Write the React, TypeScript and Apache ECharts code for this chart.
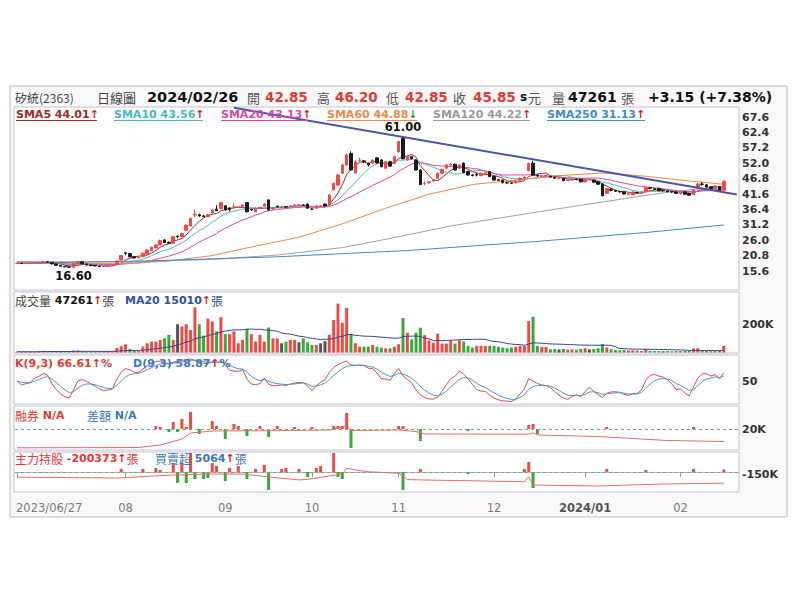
import React, { useEffect, useRef } from "react";
import * as echarts from "echarts";

// ---------- trading days (categories) ----------
const jun2023 = [27, 28, 29, 30];
const jul2023 = [3, 4, 5, 6, 7, 10, 11, 12, 13, 14, 17, 18, 19, 20, 21, 24, 25, 26, 27, 28, 31];
const aug2023 = [1, 2, 3, 4, 7, 8, 9, 10, 11, 14, 15, 16, 17, 18, 21, 22, 23, 24, 25, 28, 29, 30, 31];
const sep2023 = [1, 4, 5, 6, 7, 8, 11, 12, 13, 14, 15, 18, 19, 20, 21, 22, 25, 26, 27, 28];
const oct2023 = [2, 3, 4, 5, 6, 11, 12, 13, 16, 17, 18, 19, 20, 23, 24, 25, 26, 27, 30, 31];
const nov2023 = [1, 2, 3, 6, 7, 8, 9, 10, 13, 14, 15, 16, 17, 20, 21, 22, 23, 24, 27, 28, 29, 30];
const dec2023 = [1, 4, 5, 6, 7, 8, 11, 12, 13, 14, 15, 18, 19, 20, 21, 22, 25, 26, 27, 28, 29];
const jan2024 = [2, 3, 4, 5, 8, 9, 10, 11, 12, 15, 16, 17, 18, 19, 22, 23, 24, 25, 26, 29, 30, 31];
const feb2024 = [1, 2, 5, 15, 16, 19, 20, 21, 22, 23, 26];

// ---------- daily candles: [open, close, low, high] ----------
const candles = [
  [18.2, 18.2, 18.0, 18.4], [18.2, 18.1, 18.0, 18.3], [18.1, 18.2, 18.0, 18.3], [18.2, 18.2, 18.1, 18.4], [18.2, 18.3, 18.1, 18.4],
  [18.3, 18.4, 18.2, 18.6], [18.4, 18.7, 18.3, 18.9], [18.7, 18.5, 18.4, 18.8], [18.5, 18.0, 17.9, 18.6], [18.0, 17.5, 17.4, 18.1],
  [17.5, 17.2, 17.1, 17.6], [17.2, 17.0, 16.9, 17.3], [17.0, 16.9, 16.7, 17.1], [16.9, 18.1, 16.6, 18.2], [18.1, 18.7, 18.0, 19.0],
  [18.7, 18.0, 17.9, 18.9], [18.0, 17.6, 17.5, 18.1], [17.6, 17.4, 17.3, 17.7], [17.4, 17.3, 17.2, 17.5], [17.3, 17.1, 17.0, 17.4],
  [17.1, 17.2, 16.9, 17.3], [17.2, 17.4, 17.0, 17.5], [17.4, 17.7, 17.3, 17.8], [18.0, 19.0, 17.9, 19.1], [19.3, 20.8, 19.2, 20.9],
  [21.8, 21.6, 20.9, 22.1], [21.5, 20.4, 20.2, 21.6], [20.4, 20.0, 19.8, 20.6], [20.0, 20.3, 19.9, 20.6], [20.4, 21.6, 20.3, 21.8],
  [21.3, 22.7, 21.2, 22.9], [22.4, 23.6, 22.3, 23.8], [23.4, 24.4, 23.3, 24.6], [24.4, 25.9, 24.3, 26.2], [26.1, 25.2, 25.0, 26.4],
  [25.3, 25.0, 24.8, 25.6], [25.0, 27.2, 24.9, 27.4], [27.4, 27.2, 26.6, 27.6], [27.2, 28.3, 27.0, 28.5], [29.4, 31.1, 29.2, 31.3],
  [30.8, 33.4, 30.6, 33.6], [34.5, 34.8, 33.8, 36.2], [34.6, 34.2, 33.9, 35.0], [34.2, 34.0, 33.8, 34.6], [34.0, 34.6, 33.8, 34.8],
  [35.2, 36.2, 35.0, 36.4], [36.5, 36.0, 35.8, 37.8], [36.6, 38.7, 36.5, 38.9], [37.6, 36.2, 36.0, 37.8], [36.9, 36.4, 35.7, 37.1],
  [37.2, 37.2, 36.8, 38.4], [37.0, 37.3, 36.8, 37.5], [37.3, 37.9, 37.2, 38.1], [38.7, 35.6, 35.4, 38.9], [36.4, 36.2, 35.9, 36.6],
  [35.6, 36.8, 35.5, 37.0], [36.8, 37.1, 36.6, 37.3], [37.5, 38.2, 37.3, 38.5], [39.6, 36.2, 36.0, 39.8], [36.5, 36.8, 36.3, 37.0],
  [37.5, 37.3, 37.0, 37.7], [37.1, 37.3, 37.0, 37.5], [37.4, 37.2, 37.0, 37.5], [37.5, 37.6, 37.3, 37.9], [37.7, 37.9, 37.5, 38.1],
  [37.8, 37.9, 37.6, 38.2], [37.9, 37.8, 37.6, 38.1], [38.2, 36.8, 36.6, 38.4], [36.5, 36.5, 36.3, 36.8], [36.8, 37.6, 36.6, 37.8],
  [37.6, 37.6, 37.3, 37.9], [38.2, 37.6, 37.4, 38.4], [37.9, 41.3, 37.8, 41.35], [43.0, 45.2, 42.8, 45.4], [44.6, 48.0, 44.4, 48.4],
  [48.6, 51.4, 48.4, 51.8], [51.4, 54.8, 51.2, 55.3], [55.3, 49.7, 49.5, 56.0], [48.7, 52.5, 48.5, 53.0], [53.0, 53.1, 52.5, 53.8],
  [52.8, 52.5, 52.0, 53.0], [52.0, 51.4, 50.8, 52.2], [52.0, 53.0, 51.8, 53.3], [53.8, 52.1, 51.9, 54.0], [53.1, 50.8, 50.6, 53.4],
  [50.3, 52.5, 50.1, 52.8], [52.5, 51.0, 50.8, 52.8], [52.0, 54.2, 51.8, 54.5], [55.9, 59.3, 55.5, 59.6], [60.4, 53.5, 53.4, 61.0],
  [53.1, 54.2, 52.8, 54.6], [54.2, 53.6, 53.2, 54.5], [53.0, 49.7, 49.5, 53.3], [49.7, 44.75, 44.7, 50.0], [45.2, 45.2, 44.5, 45.8],
  [45.4, 45.7, 45.0, 46.0], [46.0, 46.3, 45.7, 46.6], [46.9, 48.6, 46.7, 48.9], [48.6, 49.9, 48.3, 50.2], [50.3, 51.4, 50.0, 51.8],
  [51.4, 51.6, 51.0, 52.0], [51.6, 49.7, 49.5, 52.0], [50.3, 51.4, 50.0, 51.7], [52.0, 48.8, 48.6, 52.3], [49.2, 48.0, 47.8, 49.5],
  [48.0, 47.8, 47.6, 48.3], [48.3, 48.0, 47.5, 48.5], [47.8, 48.6, 47.6, 48.8], [48.5, 48.8, 48.3, 49.0], [49.1, 47.5, 47.3, 49.3],
  [47.5, 46.3, 46.1, 47.7], [46.4, 46.2, 46.0, 46.7], [46.3, 45.4, 45.2, 46.5], [45.5, 45.3, 45.0, 45.8], [45.3, 45.2, 45.0, 45.6],
  [45.4, 46.0, 45.2, 46.2], [46.3, 46.9, 46.1, 47.1], [46.8, 47.3, 46.6, 47.5], [49.5, 52.0, 49.3, 52.0], [52.0, 48.0, 47.8, 52.8],
  [48.0, 47.7, 47.4, 48.2], [47.6, 47.8, 47.3, 47.9], [47.6, 47.9, 47.2, 48.0], [47.6, 47.3, 47.1, 47.7], [47.3, 46.9, 46.7, 47.5],
  [46.9, 46.9, 46.6, 47.2], [46.9, 46.1, 45.9, 47.1], [46.2, 46.3, 46.0, 46.5], [46.3, 46.6, 46.1, 46.8], [46.6, 46.5, 46.3, 46.8],
  [46.6, 45.7, 45.5, 46.8], [45.7, 46.6, 45.5, 46.8], [46.6, 46.6, 46.3, 46.9], [46.3, 45.6, 45.4, 46.5], [45.7, 44.9, 44.7, 45.9],
  [45.0, 41.0, 40.8, 45.2], [41.8, 43.4, 41.6, 43.6], [43.2, 42.8, 42.5, 43.4], [42.8, 42.5, 42.3, 43.0], [42.5, 42.3, 42.1, 42.7],
  [42.3, 41.6, 41.4, 42.5], [41.5, 41.7, 41.3, 41.9], [41.3, 42.3, 41.2, 42.5], [42.1, 41.9, 41.7, 42.3], [41.9, 42.3, 41.8, 42.5],
  [42.3, 43.8, 42.2, 44.0], [43.7, 43.5, 43.2, 43.9], [43.4, 43.1, 42.9, 43.6], [43.5, 42.7, 42.5, 43.7], [42.8, 42.7, 42.4, 43.0],
  [42.6, 42.4, 42.2, 42.8], [42.4, 42.3, 42.0, 42.6], [42.3, 41.8, 41.6, 42.5], [41.7, 42.4, 41.5, 42.6], [42.3, 41.5, 41.3, 42.5],
  [41.8, 41.2, 41.0, 42.0], [41.4, 43.0, 41.3, 43.2], [43.5, 45.0, 43.4, 45.3], [45.0, 44.85, 44.4, 45.6], [44.7, 44.0, 43.8, 44.9],
  [44.0, 43.3, 43.1, 44.3], [43.4, 44.2, 43.2, 44.5], [44.1, 42.7, 42.5, 44.3], [42.85, 45.85, 42.85, 46.2],
];

// ---------- daily volume (張) ----------
const volumes = [
  6000, 5000, 5000, 6000, 5000, 8000, 12000, 9000, 7000, 8000,
  6000, 7000, 8000, 14000, 15000, 9000, 6000, 5000, 5000, 6000,
  5000, 8000, 10000, 32000, 45000, 58000, 25000, 12000, 10000, 42000,
  65000, 77000, 77000, 89000, 100000, 125000, 89000, 200000, 184000, 200000,
  160000, 320000, 200000, 120000, 240000, 220000, 150000, 250000, 130000, 130000,
  150000, 65000, 90000, 168000, 130000, 77000, 125000, 77000, 177000, 100000,
  100000, 65000, 77000, 89000, 89000, 72000, 100000, 72000, 53000, 53000,
  65000, 80000, 125000, 230000, 346000, 210000, 316000, 130000, 66000, 42000,
  42000, 42000, 53000, 40000, 35000, 30000, 30000, 40000, 59000, 245000,
  140000, 93000, 140000, 175000, 123000, 86000, 70000, 133000, 63000, 63000,
  86000, 63000, 86000, 77000, 47000, 35000, 47000, 47000, 47000, 47000,
  47000, 40000, 35000, 30000, 35000, 40000, 47000, 47000, 222000, 254000,
  47000, 40000, 40000, 23000, 25000, 22000, 25000, 20000, 22000, 20000,
  25000, 30000, 22000, 25000, 30000, 59000, 35000, 23000, 18000, 16000,
  18000, 15000, 16000, 14000, 11000, 25000, 12000, 10000, 11000, 9000,
  10000, 9000, 10000, 10000, 11000, 12000, 28000, 30000, 14000, 10000,
  9000, 10000, 14000, 47261,
];

// ---------- long moving averages & trend line: [day index, price] ----------
const sma60Pts = [[0, 18.6], [15, 18.2], [25, 18.0], [35, 19.0], [45, 20.8], [55, 24.0], [65, 27.0], [75, 31.5], [85, 36.8], [95, 41.5], [105, 44.8], [115, 46.3], [125, 47.8], [135, 48.7], [145, 47.6], [155, 46.0], [163, 44.88]];
const sma120Pts = [[0, 18.8], [25, 18.6], [45, 19.5], [60, 21.0], [75, 23.5], [85, 26.3], [100, 30.8], [110, 33.2], [120, 35.5], [130, 37.8], [140, 40.0], [150, 42.2], [163, 44.22]];
const sma250Pts = [[0, 18.2], [30, 19.0], [60, 20.4], [90, 22.5], [120, 25.6], [145, 28.6], [163, 31.13]];
const trendPts = [[50, 70.7], [166, 41.4]];

// ---------- margin panel (融券) ----------
const marginBars = [[32, 3], [33, 2], [35, -3], [36, 7], [37, -3], [38, 10], [39, 2], [40, 17], [42, -5], [45, 8], [46, 3], [48, -10], [50, 5], [51, 3], [53, -7], [56, 3], [58, -8], [60, 3], [64, 2], [68, 2], [73, 3], [74, 3], [75, 3], [76, 16], [77, -19], [88, 3], [89, 3], [93, -12], [104, -2], [118, 4], [119, 5], [120, -5], [136, 2], [156, 2]];
const marginLine = [[0, 1200], [28, 1500], [33, 4000], [38, 10000], [40, 16000], [45, 18000], [52, 18200], [60, 18300], [72, 19000], [76, 23000], [77, 18500], [88, 19000], [92, 17500], [94, 15000], [118, 14800], [119, 16200], [120, 14000], [134, 12500], [150, 8500], [163, 7500]];

// ---------- main force panel (主力持股 / 買賣超) ----------
const forceBars = [[24, 6000], [29, 6000], [32, 8000], [33, 4000], [36, 18000], [37, -22000], [38, 18000], [39, -22000], [40, 38000], [41, -14000], [43, -14000], [44, -12000], [45, 18000], [46, 12000], [48, -18000], [49, 8000], [51, 12000], [53, -14000], [55, 6000], [57, 14000], [58, -36000], [61, 6000], [62, 8000], [65, 6000], [67, -10000], [69, 8000], [70, 12000], [73, 38000], [74, -10000], [75, -14000], [89, -36000], [93, 6000], [104, -4000], [117, 6000], [118, 20000], [119, -32000], [136, 6000], [145, 4000], [156, 6000], [163, 5064]];
const forceLine = [[0, -167000], [24, -171000], [31, -160000], [37, -154000], [44, -149000], [52, -149000], [58, -165000], [65, -182000], [67, -179000], [72, -160000], [75, -149000], [76, -117000], [78, -126000], [81, -136000], [88, -145000], [89, -160000], [90, -180000], [93, -182000], [117, -192000], [118, -164000], [119, -211000], [134, -216000], [149, -205000], [163, -200373]];

// ---------- tick labels ----------
const priceTicks = ["67.6", "62.4", "57.2", "52.0", "46.8", "41.6", "36.4", "31.2", "26.0", "20.8", "15.6"];

const RED = "#f04a44";
const DOWN = "#1a1a1a";
const GREEN = "#3aa83a";
const TXT_RED = "#e23a34";
const TXT_BLUE = "#3a78c0";
const NUM = "DejaVu Sans";
const CJK = "Noto Sans CJK TC";

function movingAvg(arr: number[], n: number) {
  return arr.map((_, i) => {
    const s = Math.max(0, i - n + 1);
    let sum = 0;
    for (let j = s; j <= i; j++) sum += arr[j];
    return +(sum / (i - s + 1)).toFixed(3);
  });
}

function kdCalc(c: number[][]) {
  let k = 50, d = 50;
  const K: number[] = [], D: number[] = [];
  for (let i = 0; i < c.length; i++) {
    let lo = Infinity, hi = -Infinity;
    for (let j = Math.max(0, i - 8); j <= i; j++) {
      lo = Math.min(lo, c[j][2]);
      hi = Math.max(hi, c[j][3]);
    }
    const rsv = hi === lo ? 50 : ((c[i][1] - lo) / (hi - lo)) * 100;
    k = (k * 2) / 3 + rsv / 3;
    d = (d * 2) / 3 + k / 3;
    K.push(+k.toFixed(2));
    D.push(+d.toFixed(2));
  }
  return { K, D };
}

function buildOption() {
  const months: [string, number[]][] = [
    ["2023/06", jun2023], ["2023/07", jul2023], ["2023/08", aug2023], ["2023/09", sep2023], ["2023/10", oct2023],
    ["2023/11", nov2023], ["2023/12", dec2023], ["2024/01", jan2024], ["2024/02", feb2024],
  ];
  const dates = months.flatMap(([m, ds]) => ds.map((d) => `${m}/${String(d).padStart(2, "0")}`));
  const cats = [...dates, "pad1", "pad2", "pad3"];
  // first day, then each month's first trading day (months too close to the first label are skipped)
  const isLabel = cats.map(
    (c, i) => i < dates.length && (i === 0 || (i > 15 && c.slice(0, 7) !== cats[i - 1].slice(0, 7)))
  );

  const closes = candles.map((c) => c[1]);
  const sma5 = movingAvg(closes, 5);
  const sma10 = movingAvg(closes, 10);
  const sma20 = movingAvg(closes, 20);
  const volMa20 = movingAvg(volumes, 20);
  const { K, D } = kdCalc(candles);

  const volData = volumes.map((v, i) => {
    const up = i === 0 || closes[i] > closes[i - 1];
    const flat = i > 0 && closes[i] === closes[i - 1];
    return { value: v, itemStyle: { color: flat ? "#555" : up ? RED : GREEN } };
  });
  const signBars = (arr: number[][]) =>
    arr.map(([i, v]) => ({ value: [i, v], itemStyle: { color: v >= 0 ? RED : GREEN } }));

  const grids = [
    { left: 15, right: 61, top: 101.6, height: 184.8 },
    { left: 15, right: 61, top: 296, height: 56.5 },
    { left: 15, right: 61, top: 357, height: 48 },
    { left: 15, right: 61, top: 409, height: 40 },
    { left: 15, right: 61, top: 452, height: 40 },
  ];

  const xAxes = grids.map((_, gi) => {
    const bottom = gi === 4;
    return {
      type: "category",
      gridIndex: gi,
      data: cats,
      boundaryGap: true,
      axisLine: { show: bottom, lineStyle: { color: "#b8b0c8" } },
      axisTick: {
        show: bottom,
        interval: (i: number) => isLabel[i],
        alignWithLabel: true,
        length: 5,
        lineStyle: { color: "#999" },
      },
      axisLabel: {
        show: bottom,
        interval: (i: number) => isLabel[i],
        showMinLabel: true,
        margin: 10,
        color: "#7a7a7a",
        fontSize: 11.5,
        fontFamily: NUM,
        formatter: (v: string, i: number) => {
          if (i === 0) return `{f|${v}}`;
          const mm = v.slice(5, 7);
          if (mm === "01") return `{b|${v.slice(0, 7)}}`;
          return mm;
        },
        rich: {
          f: { padding: [0, 0, 0, 64], color: "#7a7a7a", fontSize: 11.5, fontFamily: NUM },
          b: { fontWeight: "bold", color: "#555", fontSize: 11.5, fontFamily: NUM },
        },
      },
      splitLine: { show: false },
    };
  });

  const lab = { color: "#333", fontWeight: "bold", fontSize: 11, fontFamily: NUM, margin: 3 };
  const yAxes: any[] = [
    {
      gridIndex: 0, position: "right", min: 10.4, max: 72.8, interval: 5.2,
      axisLine: { show: false }, axisTick: { show: false }, splitLine: { show: false },
      axisLabel: { ...lab, formatter: (v: number) => {
        const s = v.toFixed(1);
        return priceTicks.includes(s) ? s : "";
      } },
    },
    {
      gridIndex: 1, position: "right", min: 0, max: 400000, interval: 200000,
      axisLine: { show: false }, axisTick: { show: false }, splitLine: { show: false },
      axisLabel: { ...lab, formatter: (v: number) => (v === 200000 ? "200K" : "") },
    },
    {
      gridIndex: 2, position: "right", min: 0, max: 100, interval: 50,
      axisLine: { show: false }, axisTick: { show: false }, splitLine: { show: false },
      axisLabel: { ...lab, formatter: (v: number) => (v === 50 ? "50" : "") },
    },
    {
      gridIndex: 3, position: "right", min: 0, max: 40000, interval: 20000,
      axisLine: { show: false }, axisTick: { show: false }, splitLine: { show: false },
      axisLabel: { ...lab, formatter: (v: number) => (v === 20000 ? "20K" : "") },
    },
    { gridIndex: 3, position: "right", min: -20, max: 20, show: false, splitLine: { show: false } },
    {
      gridIndex: 4, position: "right", min: -250000, max: -25000, interval: 50000,
      axisLine: { show: false }, axisTick: { show: false }, splitLine: { show: false },
      axisLabel: { ...lab, formatter: (v: number) => (v === -150000 ? "-150K" : "") },
    },
    { gridIndex: 4, position: "right", min: -40000, max: 40000, show: false, splitLine: { show: false } },
  ];

  const line = (name: string, data: any, color: string, xi: number, yi: number, width = 1, z = 3) => ({
    name, type: "line", xAxisIndex: xi, yAxisIndex: yi, data, showSymbol: false, symbol: "none",
    lineStyle: { color, width }, itemStyle: { color }, z, silent: true,
  });

  const baseMark = {
    symbol: "none", silent: true, label: { show: false },
    lineStyle: { type: [3, 3], color: "#7aa87a", width: 1 },
    data: [{ yAxis: 0 }],
  };

  const series: any[] = [
    {
      name: "K", type: "candlestick", xAxisIndex: 0, yAxisIndex: 0, data: candles, barWidth: 3,
      itemStyle: { color: RED, color0: DOWN, borderColor: RED, borderColor0: DOWN, borderWidth: 1 },
      z: 4,
      markPoint: {
        symbol: "circle", symbolSize: 1, itemStyle: { color: "rgba(0,0,0,0)" },
        label: { show: true, color: "#111", fontWeight: "bold", fontSize: 11.5, fontFamily: NUM },
        data: [
          { coord: [dates[89], 61.0], label: { formatter: "61.00", position: "top", distance: 3 } },
          { coord: [dates[13], 16.6], label: { formatter: "16.60", position: "bottom", distance: 1 } },
        ],
      },
    },
    line("SMA5", sma5, "#a02828", 0, 0),
    line("SMA10", sma10, "#4cbcc4", 0, 0),
    line("SMA20", sma20, "#dc4aa0", 0, 0),
    line("SMA60", sma60Pts, "#f0884a", 0, 0),
    line("SMA120", sma120Pts, "#a0a0a0", 0, 0),
    line("SMA250", sma250Pts, "#3d8cd0", 0, 0),
    line("trend", trendPts, "#4b55a8", 0, 0, 2, 5),
    { name: "vol", type: "bar", xAxisIndex: 1, yAxisIndex: 1, data: volData, barWidth: 3, silent: true },
    line("volMA20", volMa20, "#3a4590", 1, 1),
    line("Kline", K, "#e04848", 2, 2),
    line("Dline", D, "#4d94d4", 2, 2),
    { name: "mbar", type: "bar", xAxisIndex: 3, yAxisIndex: 4, data: signBars(marginBars), barWidth: 3, silent: true, markLine: baseMark },
    line("mline", marginLine, "#e86a6a", 3, 3),
    { name: "fbar", type: "bar", xAxisIndex: 4, yAxisIndex: 6, data: signBars(forceBars), barWidth: 3, silent: true, markLine: baseMark },
    line("fline", forceLine, "#e86a6a", 4, 5),
  ];

  // ---------- graphics: frame, panels, header and legends ----------
  const panel = (y1: number, y2: number) => ({
    type: "rect", z: -10, silent: true,
    shape: { x: 14, y: y1, width: 725, height: y2 - y1 },
    style: { fill: "#ffffff", stroke: "#c8c0d6", lineWidth: 1 },
  });
  const txt = (x: number, y: number, text: string, font: string, size: number, color: string, bold = false) => ({
    type: "text", x, y, z: 20, silent: true,
    style: { text, fill: color, fontSize: size, fontFamily: font, fontWeight: bold ? "bold" : "normal", verticalAlign: "middle" },
  });
  const rich = (x: number, y: number, text: string, color: string) => ({
    type: "text", x, y, z: 20, silent: true,
    style: {
      text, verticalAlign: "middle",
      rich: {
        n: { fill: color, color, fontSize: 11, fontWeight: "bold", fontFamily: NUM },
        k: { fill: "#111", color: "#111", fontSize: 11, fontWeight: "bold", fontFamily: NUM },
        c: { fill: color, color, fontSize: 12, fontFamily: CJK },
        g: { fill: "#444", color: "#444", fontSize: 12, fontFamily: CJK },
        u: { fill: "#e02020", color: "#e02020", fontSize: 11, fontWeight: "bold", fontFamily: NUM },
        d: { fill: "#2e9a2e", color: "#2e9a2e", fontSize: 11, fontWeight: "bold", fontFamily: NUM },
      },
    },
  });
  const underline = (x1: number, x2: number, color: string) => ({
    type: "line", z: 20, silent: true,
    shape: { x1, y1: 120.5, x2, y2: 120.5 },
    style: { stroke: color, lineWidth: 1 },
  });

  const smaLegend = [
    { x: 16, end: 97, label: "SMA5 44.01", color: "#9c2a2a", dir: "u" },
    { x: 114, end: 203, label: "SMA10 43.56", color: "#45b9c2", dir: "u" },
    { x: 221, end: 308, label: "SMA20 43.13", color: "#d9489e", dir: "u" },
    { x: 327, end: 417, label: "SMA60 44.88", color: "#f0884a", dir: "d" },
    { x: 433, end: 530, label: "SMA120 44.22", color: "#9a9a9a", dir: "u" },
    { x: 547, end: 645, label: "SMA250 31.13", color: "#3d8cd0", dir: "u" },
  ];

  const graphic: any[] = [
    { type: "rect", z: -20, silent: true, shape: { x: 10, y: 86, width: 777, height: 431 }, style: { fill: "#f8f8f8", stroke: "#bdbdbd", lineWidth: 1 } },
    panel(107, 290), panel(292, 353), panel(355, 404), panel(406, 450), panel(452, 492),
    txt(15, 97, "矽統(2363)", CJK, 12, "#444"),
    txt(97, 97, "日線圖", CJK, 13, "#444"),
    txt(147, 97, "2024/02/26", NUM, 14.5, "#111", true),
    txt(247, 97, "開", CJK, 13, "#555"),
    txt(265, 97, "42.85", NUM, 13.5, TXT_RED, true),
    txt(317, 97, "高", CJK, 13, "#555"),
    txt(335, 97, "46.20", NUM, 13.5, TXT_RED, true),
    txt(386, 97, "低", CJK, 13, "#555"),
    txt(405, 97, "42.85", NUM, 13.5, TXT_RED, true),
    txt(453, 97, "收", CJK, 13, "#555"),
    txt(473, 97, "45.85", NUM, 13.5, TXT_RED, true),
    txt(520, 97, "s", NUM, 12, "#111", true),
    txt(528, 97, "元", CJK, 13, "#555"),
    txt(552, 97, "量", CJK, 13, "#555"),
    txt(568, 97, "47261", NUM, 14, "#111", true),
    txt(621, 97, "張", CJK, 13, "#555"),
    txt(648, 97, "+3.15 (+7.38%)", NUM, 14, "#111", true),
    ...smaLegend.map((l) => rich(l.x, 114.5, `{n|${l.label}}{${l.dir}|${l.dir === "u" ? "↑" : "↓"}}`, l.color)),
    ...smaLegend.map((l) => underline(l.x, l.end, l.color)),
    rich(15, 300, "{g|成交量}{k| 47261}{u|↑}{g|張}", "#333"),
    rich(125, 300, "{n|MA20 15010}{u|↑}{c|張}", "#33509a"),
    rich(15, 363, "{n|K(9,3) 66.61}{u|↑}{n|%}", TXT_RED),
    rich(133, 363, "{n|D(9,3) 58.87}{u|↑}{n|%}", TXT_BLUE),
    rich(15, 415, "{c|融券}{n| N/A}", TXT_RED),
    rich(87, 415, "{c|差額}{n| N/A}", TXT_BLUE),
    rich(15, 458, "{c|主力持股}{n| -200373}{u|↑}{c|張}", TXT_RED),
    rich(155, 458, "{c|買賣超}{n| 5064}{u|↑}{c|張}", TXT_BLUE),
  ];

  return {
    animation: false,
    backgroundColor: "#ffffff",
    textStyle: { fontFamily: NUM },
    grid: grids,
    xAxis: xAxes,
    yAxis: yAxes,
    series,
    graphic,
  };
}

export default function App() {
  const ref = useRef<HTMLDivElement>(null);
  useEffect(() => {
    if (!ref.current) return;
    const chart = echarts.init(ref.current, null, { renderer: "svg" });
    chart.setOption(buildOption() as any);
    return () => chart.dispose();
  }, []);
  return <div ref={ref} style={{ position: "fixed", left: 0, top: 0, width: 800, height: 600 }} />;
}
